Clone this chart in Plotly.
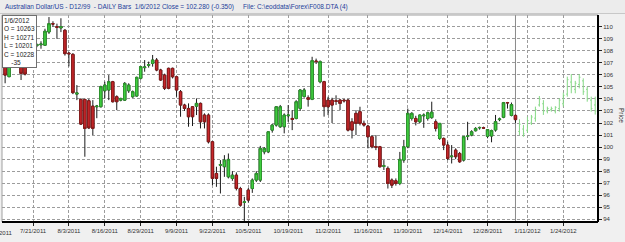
import plotly.graph_objects as go
import pandas as pd

# ---- trading-day categories (Mon-Fri, forex) ----
dates = [f"{d.month}/{d.day}/{d.year}" for d in pd.bdate_range("2011-07-12", "2012-02-03")]
n_actual = 129
actual_dates = dates[:n_actual]
proj_dates = dates[n_actual:]

label_dates = ["7/21/2011", "8/3/2011", "8/16/2011", "8/29/2011", "9/9/2011", "9/22/2011",
               "10/5/2011", "10/19/2011", "11/2/2011", "11/16/2011", "11/30/2011",
               "12/14/2011", "12/28/2011", "1/11/2012", "1/24/2012"]
price_ticks = list(range(94, 111))

# ---- actual daily bars (price x 100) ----
opens = [107.0, 105.85, 107.3, 107.15, 107.0, 106.9, 106.95, 107.4, 108.45, 108.5,
         108.46, 109.56, 110.25, 110.0, 109.9, 109.7, 107.8, 107.7, 104.4, 103.96,
         103.96, 103.85, 103.4, 103.35, 103.35, 104.68, 104.74, 105.43, 104.18, 103.9,
         103.9, 104.68, 104.18, 104.24, 105.71, 106.6, 106.8, 106.95, 107.23, 106.4,
         105.98, 106.54, 106.54, 105.84, 104.6, 103.49, 103.21, 103.35, 103.4, 103.63,
         102.66, 102.66, 100.44, 97.81, 98.5, 98.37, 97.53, 97.4, 97.67, 96.56,
         95.4, 96.43, 96.56, 97.26, 97.26, 99.61, 99.61, 101.41, 101.83, 101.69,
         101.69, 102.6, 102.38, 102.38, 103.21, 104.2, 104.1, 103.97, 107.15, 105.43,
         105.43, 103.9, 103.9, 103.85, 103.9, 103.9, 103.9, 102.1, 102.8, 102.94,
         101.97, 101.74, 100.86, 100.05, 100.03, 98.4, 98.23, 97.26, 97.2, 96.98,
         98.92, 100.03, 102.38, 102.38, 102.1, 102.6, 102.38, 102.45, 102.1, 100.72,
         100.72, 100.17, 99.2, 99.75, 99.47, 98.92, 100.88, 101.0, 101.36, 101.6,
         101.6, 100.9, 100.92, 101.42, 102.28, 102.48, 103.7, 102.63, 102.63]
highs = [107.2, 107.5, 107.6, 107.4, 107.2, 107.0, 107.6, 108.4, 108.6, 108.79,
         109.83, 110.8, 110.45, 110.25, 110.7, 109.8, 107.9, 107.8, 105.15, 104.05,
         104.0, 104.0, 103.9, 103.5, 105.1, 105.43, 105.98, 105.5, 104.3, 104.1,
         105.4, 105.3, 104.7, 105.85, 106.7, 107.23, 107.1, 107.65, 107.4, 106.5,
         106.1, 106.6, 106.6, 105.9, 104.74, 103.6, 103.63, 103.4, 104.04, 103.7,
         102.8, 102.8, 100.5, 98.37, 98.92, 99.33, 99.47, 98.0, 97.9, 96.7,
         95.87, 96.6, 97.4, 98.0, 100.1, 100.0, 101.3, 101.9, 103.4, 103.5,
         102.8, 103.49, 103.07, 103.9, 104.8, 104.9, 104.3, 107.5, 107.35, 107.2,
         105.5, 104.18, 104.1, 104.3, 104.0, 104.0, 104.0, 102.4, 103.07, 103.35,
         102.2, 101.85, 101.0, 101.0, 100.1, 98.92, 98.4, 97.4, 97.4, 99.6,
         100.6, 103.2, 102.9, 102.6, 102.7, 102.8, 102.95, 103.77, 102.3, 102.0,
         100.8, 100.45, 100.17, 99.9, 99.6, 100.9, 102.1, 101.4, 101.65, 101.7,
         101.7, 101.5, 101.45, 102.67, 102.45, 103.75, 103.75, 103.7, 102.71]
lows = [105.3, 105.8, 106.9, 106.85, 105.57, 105.95, 106.85, 107.2, 108.3, 108.17,
        108.4, 109.4, 110.0, 109.0, 109.55, 107.6, 106.7, 104.4, 103.9, 101.85,
        99.2, 101.5, 101.0, 102.4, 103.3, 104.04, 103.9, 103.7, 103.07, 103.8,
        103.85, 104.5, 104.1, 104.2, 105.6, 106.26, 106.6, 106.68, 106.3, 105.5,
        104.74, 104.8, 105.7, 104.18, 102.52, 103.0, 101.69, 101.75, 102.66, 101.55,
        101.55, 100.3, 96.84, 96.7, 96.15, 97.53, 97.4, 97.2, 96.4, 95.05,
        93.85, 95.4, 96.2, 97.1, 97.1, 99.4, 99.5, 101.2, 101.7, 101.6,
        101.14, 102.1, 101.41, 102.3, 103.0, 104.1, 103.36, 103.9, 106.9, 105.3,
        102.53, 102.66, 102.0, 103.5, 103.07, 103.7, 101.3, 100.72, 101.0, 101.8,
        101.7, 99.89, 99.9, 99.75, 98.3, 98.1, 96.56, 96.6, 96.8, 96.84,
        98.7, 99.9, 102.2, 101.8, 102.0, 101.6, 102.2, 102.35, 101.3, 100.6,
        99.75, 98.92, 98.64, 99.0, 98.7, 98.8, 100.58, 100.9, 101.3, 101.45,
        101.5, 100.73, 100.4, 101.28, 102.15, 102.4, 103.2, 102.55, 102.01]
closes = [105.98, 107.3, 107.15, 107.0, 106.12, 106.07, 107.4, 108.2, 108.5, 108.55,
          109.62, 110.25, 110.22, 109.95, 110.0, 107.76, 107.75, 104.52, 104.5, 101.91,
          101.55, 101.6, 101.55, 103.4, 105.01, 105.15, 105.43, 103.77, 103.77, 104.04,
          105.29, 105.15, 104.6, 105.79, 106.68, 106.65, 106.85, 107.23, 106.4, 105.57,
          104.88, 104.88, 105.84, 104.74, 103.49, 103.21, 102.52, 102.52, 103.63, 102.1,
          102.1, 100.44, 97.4, 97.4, 98.55, 98.92, 98.98, 97.67, 96.56, 95.18,
          95.45, 95.6, 97.26, 97.81, 99.89, 99.89, 101.27, 101.83, 103.35, 103.35,
          102.66, 102.66, 102.3, 103.77, 104.74, 104.74, 103.97, 107.18, 107.1, 107.1,
          103.36, 103.35, 103.49, 103.8, 103.63, 103.85, 101.41, 101.41, 101.97, 101.97,
          101.83, 100.86, 100.03, 100.0, 98.37, 98.45, 96.98, 96.84, 96.98, 98.98,
          100.03, 102.8, 102.8, 102.1, 102.66, 102.65, 102.85, 102.9, 101.55, 101.97,
          100.17, 99.06, 99.25, 99.2, 98.78, 100.86, 100.92, 101.27, 101.55, 101.63,
          101.58, 101.45, 101.37, 102.11, 102.33, 103.69, 103.68, 103.53, 102.28]

# ---- projected bars ----
proj_open = [101.3, 101.5, 101.4, 102.0, 102.4, 103.5, 103.6, 103.0, 103.1, 103.0,
             103.2, 103.6, 104.4, 105.4, 104.8, 105.2, 105.5, 104.8, 103.9, 103.5]
proj_high = [102.31, 101.84, 102.52, 102.67, 103.36, 104.24, 103.9, 103.36, 103.36, 103.4,
             104.05, 104.52, 105.85, 106.07, 105.5, 106.07, 105.71, 105.02, 104.19, 104.19]
proj_low = [101.0, 100.86, 101.2, 101.84, 102.11, 103.36, 102.67, 102.8, 102.94, 102.8,
            102.94, 103.36, 104.19, 104.47, 104.47, 104.88, 104.33, 103.77, 102.94, 102.7]
proj_close = [101.9, 101.1, 102.2, 102.5, 103.1, 104.0, 103.0, 103.2, 103.2, 103.3,
              103.9, 104.3, 105.6, 105.0, 105.3, 105.8, 104.6, 104.0, 103.2, 103.0]

body_top = [max(o, c) for o, c in zip(opens, closes)]
body_bot = [min(o, c) for o, c in zip(opens, closes)]

FONT = "Liberation Sans, Arial, sans-serif"

fig = go.Figure()
# wicks / doji crosses (black), drawn first in the same layer as bodies
fig.add_trace(go.Candlestick(x=actual_dates, open=opens, high=highs, low=lows, close=closes,
                             increasing=dict(fillcolor="#1a1a1a", line=dict(color="#1a1a1a", width=1)),
                             decreasing=dict(fillcolor="#1a1a1a", line=dict(color="#1a1a1a", width=1)),
                             hoverinfo="skip"))
# coloured bodies on top
fig.add_trace(go.Candlestick(x=actual_dates, open=opens, high=body_top, low=body_bot, close=closes,
                             increasing=dict(fillcolor="#40D040", line=dict(color="#2E9A2E", width=1)),
                             decreasing=dict(fillcolor="#C8262B", line=dict(color="#8E1A1A", width=1)),
                             hoverinfo="skip"))
# projection
fig.add_trace(go.Ohlc(x=proj_dates, open=proj_open, high=proj_high, low=proj_low, close=proj_close,
                      increasing=dict(line=dict(color="#86D986", width=1)),
                      decreasing=dict(line=dict(color="#86D986", width=1)),
                      tickwidth=0.3, hoverinfo="skip"))

grid = dict(showgrid=True, gridcolor="#9C9C9C", griddash="3px,2px", gridwidth=1, zeroline=False)

fig.update_layout(
    width=625, height=242,
    margin=dict(l=2, r=27, t=15, b=20),
    paper_bgcolor="#F0F0F0", plot_bgcolor="white",
    showlegend=False,
    font=dict(family=FONT, size=6, color="#333333"),
    xaxis=dict(type="category", categoryorder="array", categoryarray=dates,
               range=[-0.78, 148.7], tickvals=label_dates, ticktext=label_dates,
               ticks="outside", ticklen=3, tickcolor="#222", tickangle=0,
               tickfont=dict(size=6, color="#333333"),
               rangeslider=dict(visible=False), showline=False, fixedrange=True, **grid),
    yaxis=dict(side="right", range=[93.78, 110.97], tickvals=price_ticks,
               ticktext=[str(v) for v in price_ticks],
               ticks="outside", ticklen=3, tickcolor="#222",
               tickfont=dict(size=6, color="#333333"), showline=False, fixedrange=True, **grid),
    boxgap=0.15, boxmode="overlay",
)

shapes = [
    dict(type="rect", xref="paper", yref="paper", x0=-0.01, x1=1.06, y0=1.0073, y1=1.08,
         fillcolor="#ECECEC", line=dict(width=0), layer="below"),
    dict(type="line", xref="paper", yref="paper", x0=-0.01, x1=1.06, y0=1.0073, y1=1.0073,
         line=dict(color="#C8C8C8", width=1)),
    dict(type="line", xref="x", yref="paper", x0=actual_dates[-1], x1=actual_dates[-1], y0=0, y1=1,
         line=dict(color="#8A8A8A", width=1), layer="below"),
    dict(type="line", xref="paper", yref="paper", x0=0, x1=0, y0=0, y1=1,
         line=dict(color="#A0A0A0", width=1)),
    dict(type="line", xref="paper", yref="paper", x0=0, x1=1, y0=1, y1=1,
         line=dict(color="#A0A0A0", width=1)),
    dict(type="line", xref="paper", yref="paper", x0=1, x1=1, y0=0, y1=1,
         line=dict(color="black", width=2)),
    dict(type="line", xref="paper", yref="paper", x0=0, x1=1, y0=0, y1=0,
         line=dict(color="black", width=2)),
]
fig.update_layout(shapes=shapes)

title_text = ("Australian Dollar/US - D12/99 \u00a0- DAILY Bars \u00a01/6/2012 Close = 102.280 (-0.350)"
              "\u00a0\u00a0\u00a0\u00a0 File: C:\\eoddata\\Forex\\F008.DTA (4)")
box_text = ("1/6/2012<br>O = 10263<br>H = 10271<br>L = 10201<br>C = 10228<br>"
            "\u00a0\u00a0\u00a0\u00a0-35")

fig.add_annotation(xref="paper", yref="paper", x=0.0017, y=1.041, xanchor="left", yanchor="middle",
                   text=title_text, showarrow=False, font=dict(family=FONT, size=6.5, color="#23409A"))
fig.add_annotation(xref="paper", yref="paper", x=0.0, y=1.0, xanchor="left", yanchor="top",
                   text=box_text, showarrow=False, align="left", bgcolor="white",
                   bordercolor="#707070", borderwidth=1, borderpad=1,
                   font=dict(family=FONT, size=6.5, color="#222222"))
fig.add_annotation(xref="paper", yref="paper", x=1.0386, y=0.517, xanchor="center", yanchor="middle",
                   text="Price", textangle=90, showarrow=False,
                   font=dict(family=FONT, size=6.5, color="#333333"))
# first date label, partly beyond the left edge as in the reference
fig.add_annotation(xref="paper", yref="paper", x=(15 - 2) / 596, y=-0.053, xanchor="right",
                   yanchor="middle", text="7/8/2011", showarrow=False,
                   font=dict(family=FONT, size=6, color="#333333"))

fig.write_html("out.html", config={"displayModeBar": False})
